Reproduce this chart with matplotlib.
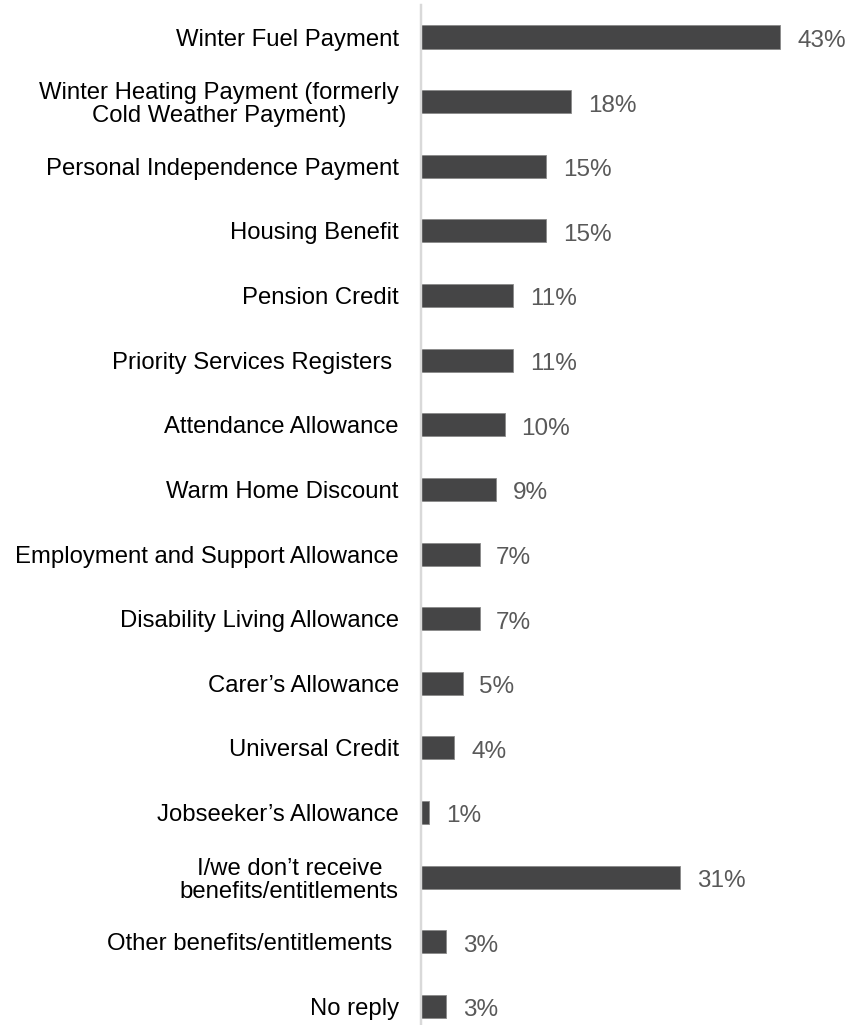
import matplotlib
matplotlib.use("Agg")
import matplotlib.pyplot as plt

categories = [
    "Winter Fuel Payment",
    "Winter Heating Payment (formerly\nCold Weather Payment)",
    "Personal Independence Payment",
    "Housing Benefit",
    "Pension Credit",
    "Priority Services Registers ",
    "Attendance Allowance",
    "Warm Home Discount",
    "Employment and Support Allowance",
    "Disability Living Allowance",
    "Carer\u2019s Allowance",
    "Universal Credit",
    "Jobseeker\u2019s Allowance",
    "I/we don\u2019t receive\nbenefits/entitlements",
    "Other benefits/entitlements ",
    "No reply",
]
values = [43, 18, 15, 15, 11, 11, 10, 9, 7, 7, 5, 4, 1, 31, 3, 3]
value_labels = [f"{v}%" for v in values]

plt.rcParams['font.family'] = ['Liberation Sans', 'DejaVu Sans']

fig = plt.figure(figsize=(8.53, 10.25), dpi=100)
ax = fig.add_axes([421/853, 0.0, (839-421)/853, 1 - 5/1025])

pos = list(range(len(categories)))
ax.barh(pos, values, height=0.356, color='#454546', edgecolor='#8a8a8a', linewidth=0.6)

for p, v, lab in zip(pos, values, value_labels):
    ax.annotate(lab, xy=(v, p), xytext=(12, -1), textcoords='offset points',
                ha='left', va='center_baseline', fontsize=17.5, color='#595959')

ax.set_xlim(0, 50)
ax.set_ylim(15 + 18.5/64.63, -32/64.63)
ax.set_yticks(pos)
ax.set_yticklabels(categories, fontsize=17.2, color='#000000', linespacing=1.05,
                   multialignment='center')
ax.tick_params(axis='y', length=0, pad=16)
ax.set_xticks([])
for s in ['top', 'right', 'bottom']:
    ax.spines[s].set_visible(False)
ax.spines['left'].set_color('#d9d9d9')
ax.spines['left'].set_linewidth(1.75)

fig.savefig("out.png", dpi=100)
